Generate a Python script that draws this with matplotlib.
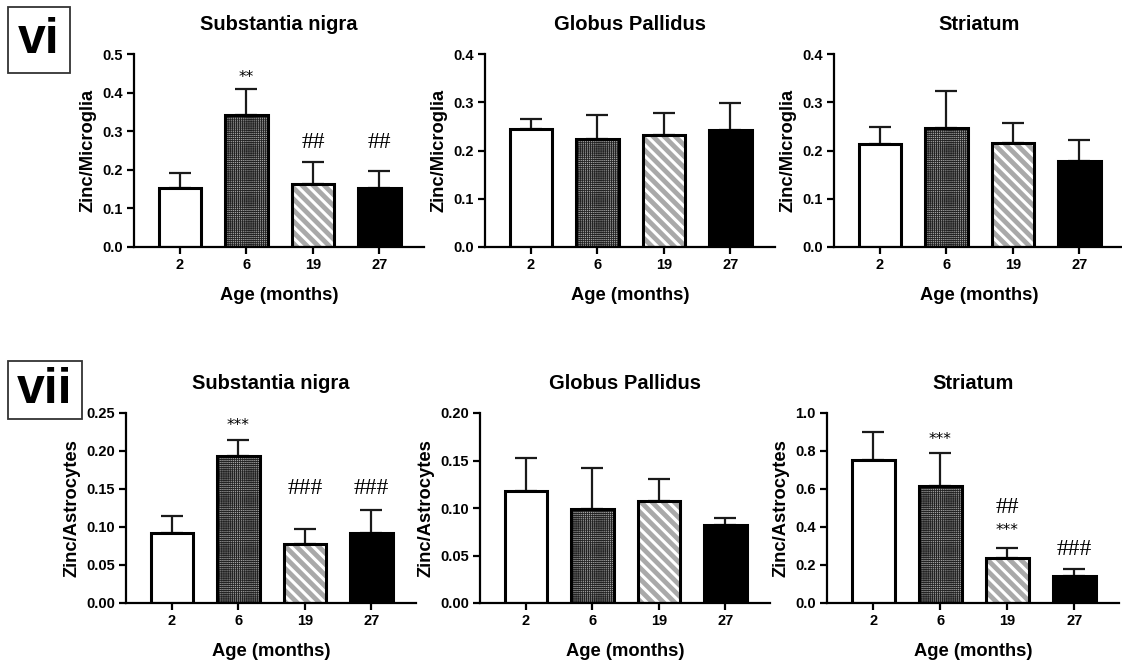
import matplotlib
matplotlib.use("Agg")
import matplotlib.pyplot as plt
from matplotlib.patches import Rectangle
import numpy as np

plt.rcParams['font.family'] = ['Liberation Sans', 'DejaVu Sans']
plt.rcParams['font.weight'] = 'bold'

ages = ["2", "6", "19", "27"]

# Row vi: Zinc/Microglia
mic_sn_mean = [0.152, 0.343, 0.162, 0.152]
mic_sn_err = [0.041, 0.067, 0.058, 0.046]
mic_gp_mean = [0.245, 0.224, 0.233, 0.242]
mic_gp_err = [0.021, 0.049, 0.045, 0.057]
mic_st_mean = [0.213, 0.247, 0.215, 0.179]
mic_st_err = [0.035, 0.076, 0.041, 0.042]

# Row vii: Zinc/Astrocytes
ast_sn_mean = [0.092, 0.194, 0.078, 0.092]
ast_sn_err = [0.022, 0.021, 0.020, 0.031]
ast_gp_mean = [0.118, 0.099, 0.107, 0.082]
ast_gp_err = [0.035, 0.043, 0.024, 0.007]
ast_st_mean = [0.755, 0.617, 0.238, 0.140]
ast_st_err = [0.143, 0.170, 0.054, 0.040]

titles = ["Substantia nigra", "Globus Pallidus", "Striatum"]

W, H = 1122, 666
fig = plt.figure(figsize=(W / 100, H / 100), dpi=100)

def ax_at(left, zero_y, top_y, width=290):
    return fig.add_axes([left / W, (H - zero_y) / H, width / W, (zero_y - top_y) / H])

styles = [
    dict(fc="white", hatch=None, hc=None, hlw=None),
    dict(fc="#a4a4a4", hatch="++++++++", hc="#222222", hlw=0.6),
    dict(fc="#a9a9a9", hatch="\\\\\\", hc="white", hlw=2.2),
    dict(fc="black", hatch=None, hc=None, hlw=None),
]

def panel(ax, means, errs, ymax, yticks, yfmt, ylabel, title, annots):
    x = np.arange(len(ages))
    w = 0.64
    for i, (m, e) in enumerate(zip(means, errs)):
        st = styles[i]
        ax.errorbar(x[i], m, yerr=[[0], [e]], color="#1a1a1a", elinewidth=1.6,
                    capsize=8, capthick=1.6, zorder=1)
        if st["hatch"]:
            with plt.rc_context({'hatch.linewidth': st["hlw"]}):
                b = ax.bar(x[i], m, width=w, color=st["fc"], edgecolor=st["hc"],
                           hatch=st["hatch"], linewidth=0, zorder=2)
                for p in b:
                    if hasattr(p, "set_hatch_linewidth"):
                        p.set_hatch_linewidth(st["hlw"])
        else:
            ax.bar(x[i], m, width=w, color=st["fc"], linewidth=0, zorder=2)
        ax.bar(x[i], m, width=w, facecolor="none", edgecolor="black",
               linewidth=2.2, zorder=3)
    ax.set_xlim(-0.69, 3.67)
    ax.set_ylim(0, ymax)
    ax.set_yticks(yticks)
    ax.set_yticklabels([yfmt.format(t) for t in yticks], fontsize=10.5, fontweight="bold")
    ax.set_xticks(x)
    ax.set_xticklabels(ages, fontsize=10.5, fontweight="bold")
    for s in ["top", "right"]:
        ax.spines[s].set_visible(False)
    for s in ["left", "bottom"]:
        ax.spines[s].set_linewidth(1.6)
        ax.spines[s].set_zorder(4)
    ax.tick_params(axis="both", direction="out", length=5, width=1.6, pad=3)
    ax.set_ylabel(ylabel, fontsize=13.2, fontweight="bold", labelpad=4)
    ax.set_xlabel("Age (months)", fontsize=13.2, fontweight="bold", labelpad=11)
    ax.set_title(title, fontsize=14.5, fontweight="bold", pad=17)
    for (i, yv, txt, kind) in annots:
        if kind == "star":
            ax.text(x[i], yv, txt, ha="center", va="center", fontsize=11,
                    fontweight="normal", family="DejaVu Sans")
        else:
            ax.text(x[i], yv, txt, ha="center", va="center", fontsize=17,
                    fontweight="normal", family="Liberation Serif")

# Top row
a = ax_at(134, 247, 54)
panel(a, mic_sn_mean, mic_sn_err, 0.5, [0, 0.1, 0.2, 0.3, 0.4, 0.5], "{:.1f}",
      "Zinc/Microglia", titles[0],
      [(1, 0.44, "**", "star"), (2, 0.272, "##", "hash"), (3, 0.272, "##", "hash")])
a = ax_at(485, 247, 54)
panel(a, mic_gp_mean, mic_gp_err, 0.4, [0, 0.1, 0.2, 0.3, 0.4], "{:.1f}",
      "Zinc/Microglia", titles[1], [])
a = ax_at(834, 247, 54)
panel(a, mic_st_mean, mic_st_err, 0.4, [0, 0.1, 0.2, 0.3, 0.4], "{:.1f}",
      "Zinc/Microglia", titles[2], [])

# Bottom row
a = ax_at(126, 603, 413)
panel(a, ast_sn_mean, ast_sn_err, 0.25, [0, 0.05, 0.10, 0.15, 0.20, 0.25], "{:.2f}",
      "Zinc/Astrocytes", titles[0],
      [(1, 0.234, "***", "star"), (2, 0.151, "###", "hash"), (3, 0.151, "###", "hash")])
a = ax_at(480, 603, 413)
panel(a, ast_gp_mean, ast_gp_err, 0.20, [0, 0.05, 0.10, 0.15, 0.20], "{:.2f}",
      "Zinc/Astrocytes", titles[1], [])
a = ax_at(827, 603, 413, width=292)
panel(a, ast_st_mean, ast_st_err, 1.0, [0, 0.2, 0.4, 0.6, 0.8, 1.0], "{:.1f}",
      "Zinc/Astrocytes", titles[2],
      [(1, 0.863, "***", "star"), (2, 0.505, "##", "hash"), (2, 0.379, "***", "star"),
       (3, 0.284, "###", "hash")])

# Panel labels
def boxlabel(x0, y0, x1, y1, txt):
    fig.patches.append(Rectangle((x0 / W, 1 - y1 / H), (x1 - x0) / W, (y1 - y0) / H,
                                 transform=fig.transFigure, fill=False,
                                 edgecolor="#333333", linewidth=1.3))
    fig.text((x0 + x1) / 2 / W, 1 - (y0 + y1) / 2 / H, txt, ha="center", va="center",
             fontsize=36, fontweight="bold")

boxlabel(8, 7, 70, 73, "vi")
boxlabel(8, 361, 82, 419, "vii")

fig.savefig("out.png", dpi=100)
